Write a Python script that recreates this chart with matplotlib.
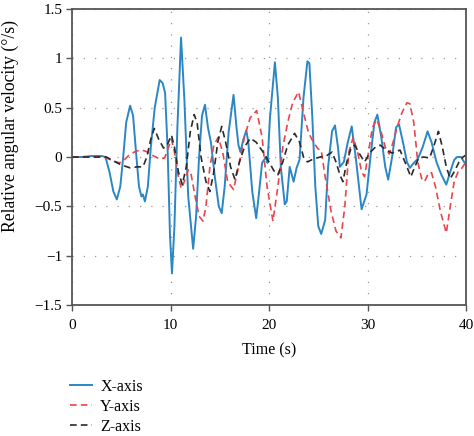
import matplotlib
matplotlib.use("Agg")
import matplotlib.pyplot as plt

# ---- data ----
x_t = [0, 1, 2, 3, 3.4, 3.8, 4.2, 4.55, 4.9, 5.2, 5.5, 5.9, 6.2, 6.5, 6.8, 7.05, 7.2, 7.4, 7.7, 8.0,
       8.4, 8.9, 9.2, 9.45, 9.7, 9.95, 10.15, 10.4, 10.7, 11.07, 11.4, 11.8, 12.3, 12.6, 12.9, 13.2,
       13.5, 13.8, 14.1, 14.5, 14.9, 15.2, 15.5, 15.9, 16.4, 16.7, 16.9, 17.1, 17.4, 17.7, 17.9, 18.3,
       18.7, 19.0, 19.3, 19.7, 19.85, 20.1, 20.6, 20.9, 21.2, 21.6, 21.8, 22.1, 22.5, 22.8, 23.1, 23.5,
       23.9, 24.1, 24.4, 24.7, 25.0, 25.3, 25.7, 26.0, 26.4, 26.7, 27.0, 27.2, 27.6, 28.0, 28.4, 28.8,
       29.4, 29.9, 30.3, 30.7, 31.0, 31.4, 31.8, 32.1, 32.5, 32.9, 33.2, 33.6, 34.0, 34.3, 34.7, 35.1,
       35.6, 36.1, 36.5, 37.0, 37.5, 38.0, 38.4, 38.8, 39.1, 39.5, 39.8, 40.0]
x_v = [0, 0.0, 0.01, 0.01, 0.0, -0.15, -0.35, -0.43, -0.3, 0.0, 0.35, 0.52, 0.42, 0.05, -0.3, -0.4,
       -0.38, -0.45, -0.3, 0.1, 0.5, 0.78, 0.75, 0.65, 0.1, -0.8, -1.18, -0.7, 0.3, 1.21, 0.6, -0.4,
       -0.93, -0.6, 0.0, 0.42, 0.53, 0.3, 0.15, -0.2, -0.5, -0.57, -0.3, 0.25, 0.63, 0.3, 0.12, 0.05,
       0.18, 0.27, 0.15, -0.35, -0.62, -0.35, -0.06, 0.0, -0.06, 0.4, 0.96, 0.6, -0.1, -0.48, -0.45,
       -0.1, -0.25, -0.11, -0.03, 0.6, 0.97, 0.95, 0.4, -0.3, -0.7, -0.78, -0.64, -0.1, 0.26, 0.32,
       0.1, -0.1, -0.05, 0.15, 0.31, 0.0, -0.53, -0.38, 0.0, 0.35, 0.43, 0.2, -0.1, -0.23, 0.0, 0.3,
       0.33, 0.15, -0.05, -0.11, -0.06, -0.02, 0.1, 0.26, 0.15, -0.05, -0.18, -0.28, -0.15, -0.03,
       0.0, 0.0, -0.05, -0.08]

y_t = [0, 1, 2, 3, 3.5, 4.2, 4.8, 5.3, 5.8, 6.5, 7.1, 7.7, 8.3, 8.9, 9.4, 9.8, 10.1, 10.4, 10.8,
       11.1, 11.4, 11.8, 12.1, 12.5, 12.9, 13.3, 13.6, 14.0, 14.4, 14.85, 15.3, 15.8, 16.4, 16.9, 17.5,
       18.1, 18.75, 19.3, 19.8, 20.4, 20.9, 21.4, 21.9, 22.4, 23.0, 23.5, 24.0, 24.5, 25.0, 25.3, 25.7,
       26.3, 26.8, 27.3, 27.7, 28.1, 28.55, 29.0, 29.4, 29.7, 30.1, 30.5, 30.95, 31.4, 31.8, 32.2, 32.6,
       33.0, 33.5, 34.0, 34.3, 34.7, 35.1, 35.5, 35.8, 36.2, 36.5, 36.9, 37.4, 38.0, 38.4, 38.8, 39.2,
       39.6, 40.0]
y_v = [0, 0, 0.0, 0.0, -0.01, -0.04, -0.06, -0.03, 0.02, 0.06, 0.07, 0.05, 0.01, -0.02, -0.01, 0.1,
       0.18, 0.05, -0.2, -0.32, -0.25, -0.13, -0.18, -0.4, -0.6, -0.65, -0.5, -0.1, 0.12, 0.2, 0.05,
       -0.25, -0.33, -0.1, 0.2, 0.4, 0.47, 0.2, -0.3, -0.65, -0.3, 0.1, 0.35, 0.55, 0.66, 0.45, 0.25,
       0.15, 0.08, 0.07, -0.2, -0.55, -0.75, -0.82, -0.5, 0.05, 0.2, 0.05, -0.15, -0.2, 0.05, 0.3, 0.38,
       0.25, 0.1, 0.03, 0.15, 0.3, 0.45, 0.55, 0.54, 0.35, -0.05, -0.22, -0.25, -0.16, -0.16, -0.3,
       -0.55, -0.77, -0.5, -0.25, -0.15, -0.11, -0.05]

z_t = [0, 1, 2, 3, 3.5, 4.2, 5.0, 5.9, 6.6, 7.2, 7.6, 8.0, 8.35, 8.8, 9.3, 9.7, 10.1, 10.4, 10.8,
       11.2, 11.6, 12.0, 12.4, 12.7, 13.1, 13.6, 14.0, 14.4, 14.8, 15.2, 15.6, 16.1, 16.55, 17.0, 17.5,
       18.1, 18.7, 19.4, 20.0, 20.5, 20.9, 21.4, 21.9, 22.6, 23.1, 23.5, 23.9, 24.5, 25.2, 25.8, 26.4,
       26.8, 27.2, 27.5, 27.9, 28.3, 28.7, 29.2, 29.7, 30.3, 30.8, 31.3, 31.9, 32.5, 33.3, 33.8, 34.4,
       34.8, 35.2, 35.7, 36.3, 36.7, 37.2, 37.6, 38.0, 38.4, 38.8, 39.3, 39.7, 40.0]
z_v = [0, 0.0, 0.0, 0.0, 0.0, -0.04, -0.08, -0.11, -0.1, -0.1, 0.0, 0.18, 0.29, 0.18, 0.09, 0.13,
       0.22, 0.1, -0.15, -0.28, -0.1, 0.25, 0.43, 0.35, 0.0, -0.25, -0.35, -0.15, 0.15, 0.31, 0.15,
       -0.1, -0.23, -0.05, 0.1, 0.19, 0.15, 0.05, -0.05, -0.14, -0.18, -0.05, 0.12, 0.24, 0.15, 0.0,
       -0.05, -0.02, 0.0, 0.01, 0.05, -0.05, -0.18, -0.25, -0.05, 0.08, 0.12, 0.03, -0.05, 0.05, 0.1,
       0.12, 0.07, 0.04, 0.07, -0.05, -0.2, -0.1, -0.01, 0.0, -0.01, 0.1, 0.26, 0.1, -0.1, -0.22,
       -0.15, -0.05, 0.0, 0.02]

series_labels = ["X-axis", "Y-axis", "Z-axis"]
x_ticks = [0, 10, 20, 30, 40]
y_ticks = [-1.5, -1, -0.5, 0, 0.5, 1, 1.5]
y_tick_labels = ["\u22121.5", "\u22121", "\u22120.5", "0", "0.5", "1", "1.5"]

# ---- figure ----
plt.rcParams['font.family'] = ['Liberation Serif', 'DejaVu Serif']
plt.rcParams['font.size'] = 11

fig = plt.figure(figsize=(4.74, 4.36), dpi=100)
ax = fig.add_axes([72 / 474, 1 - 305 / 436, (466 - 72) / 474, (305 - 9) / 436])

l1, = ax.plot(x_t, x_v, color='#2b87c4', lw=1.4, label=series_labels[0])
l2, = ax.plot(y_t, y_v, color='#e8474a', lw=1.2, ls=(0, (4, 2.5)), label=series_labels[1])
l3, = ax.plot(z_t, z_v, color='#2a2a2a', lw=1.2, ls=(0, (4, 2.5)), label=series_labels[2])

ax.set_xlim(0, 40)
ax.set_ylim(-1.5, 1.5)
ax.set_xticks(x_ticks)
ax.set_yticks(y_ticks)
ax.set_yticklabels(y_tick_labels)
ax.grid(True, color='#999999', lw=0.9, ls=(0, (1, 8)))
ax.tick_params(direction='out', length=4, width=1, color='#555555', labelsize=11, pad=3)
ax.tick_params(axis='x', pad=6)
for s in ax.spines.values():
    s.set_color('#555555')
    s.set_linewidth(1.3)

fig.text(269 / 474, 1 - 350 / 436, "Time (s)", fontsize=11.5, ha='center', va='center')
fig.text(10 / 474, 1 - 126 / 436, "Relative angular velocity (\u00b0/s)", fontsize=12.7,
         rotation=90, ha='center', va='center')

fig.legend(handles=[l1, l2, l3], loc='upper left', bbox_to_anchor=(70 / 474, 1 - 379 / 436),
           frameon=False, fontsize=11.5, handlelength=1.35, handletextpad=0.55,
           labelspacing=0.25, borderpad=0, borderaxespad=0)

fig.savefig("out.png", dpi=100)
